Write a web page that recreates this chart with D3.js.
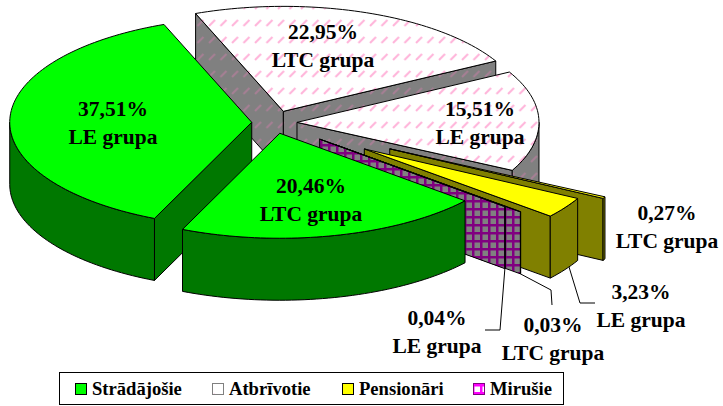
<!DOCTYPE html>
<meta charset="utf-8">
<style>
  body { margin: 0; background: #fff; }
  text { font-family: "Liberation Serif", serif; font-weight: bold; fill: #000; }
</style>
<body>
<script src="https://d3js.org/d3.v7.min.js"></script>
<script>
// slices in clockwise order, starting with the big green one
var shares = [37.51, 22.95, 15.51, 0.27, 3.23, 0.03, 0.04, 20.46];
var shareLabels = ["37,51%", "22,95%", "15,51%", "0,27%", "3,23%", "0,03%", "0,04%", "20,46%"];
var groupLabels = ["LE grupa", "LTC grupa", "LE grupa", "LTC grupa", "LE grupa", "LTC grupa", "LE grupa", "LTC grupa"];
var sliceStatus = [0, 1, 1, 2, 2, 3, 3, 0];
var legendNames = ["Strādājošie", "Atbrīvotie", "Pensionāri", "Mirušie"];

var width = 723, height = 406;

// ground plane of the pie -> screen
var x = d3.scaleLinear().domain([-1, 1]).range([274 - 242, 274 + 242]);
var y = d3.scaleLinear().domain([-1, 1]).range([122.5 - 105, 122.5 + 105]);
var depth = 62;
var rad = Math.PI / 180;

var explode = [0.092, 0.113, 0.095, 0.54, 0.45, 0.327, 0.246, 0.105];
var drawOrder = [1, 2, 3, 4, 5, 6, 0, 7];

var looks = [
  { top: "#00ff00", side: "#007800" },
  { top: "url(#pinkTop)", side: "url(#pinkSide)" },
  { top: "#ffff00", side: "#808000" },
  { top: "url(#plaidTop)", side: "url(#plaidSide)" }
];

var pie = d3.pie().sort(null).value(d => d)
  .startAngle(113.7 * rad).endAngle(113.7 * rad + 2 * Math.PI);
var slices = pie(shares);

var svg = d3.select("body").append("svg")
  .attr("width", width)
  .attr("height", height);

var defs = svg.append("defs");

function dashPattern(id, bg, dash) {
  var p = defs.append("pattern").attr("id", id)
    .attr("patternUnits", "userSpaceOnUse")
    .attr("width", 11.5).attr("height", 17);
  p.append("rect").attr("width", 11.5).attr("height", 17).attr("fill", bg);
  p.append("line").attr("x1", 2).attr("y1", 9).attr("x2", 8).attr("y2", 3)
    .attr("stroke", dash).attr("stroke-width", 2);
}
function plaidPattern(id, bg, lineCol) {
  var p = defs.append("pattern").attr("id", id)
    .attr("patternUnits", "userSpaceOnUse")
    .attr("width", 8).attr("height", 8);
  p.append("rect").attr("width", 8).attr("height", 8).attr("fill", bg);
  p.append("rect").attr("x", 0).attr("width", 2.5).attr("height", 8).attr("fill", lineCol);
  p.append("rect").attr("y", 0).attr("width", 8).attr("height", 2.5).attr("fill", lineCol);
}
dashPattern("pinkTop", "#fff", "#ffb4da");
dashPattern("pinkSide", "#808080", "#a67f94");
plaidPattern("plaidTop", "#fff", "#ff00ff");
plaidPattern("plaidSide", "#808080", "#800080");

var line = d3.line();

function pt(s, e, r, a, drop) {
  var ox = e * Math.cos(s), oy = e * Math.sin(s);
  return [x(ox + r * Math.cos(a)), y(oy + r * Math.sin(a)) + (drop || 0)];
}
function arcAngles(a0, a1) {
  var n = Math.max(2, Math.ceil((a1 - a0) / (1.5 * rad)));
  return d3.range(n + 1).map(i => a0 + (a1 - a0) * i / n);
}

var pieG = svg.append("g").attr("stroke", "#000").attr("stroke-width", 1).attr("stroke-linejoin", "round");

drawOrder.forEach(function(i) {
  var d = slices[i], e = explode[i], look = looks[sliceStatus[i]];
  var mid = (d.startAngle + d.endAngle) / 2;
  var g = pieG.append("g");

  function wall(a) {
    g.append("path")
      .attr("d", line([pt(mid, e, 0, a), pt(mid, e, 1, a), pt(mid, e, 1, a, depth), pt(mid, e, 0, a, depth)]) + "Z")
      .attr("fill", look.side);
  }
  if (Math.sin(d.startAngle - Math.PI / 2) > 0) wall(d.startAngle);
  if (Math.sin(d.endAngle + Math.PI / 2) > 0) wall(d.endAngle);

  // rim, only the part that faces the viewer
  [[0, Math.PI], [2 * Math.PI, 3 * Math.PI]].forEach(function(w) {
    var a0 = Math.max(d.startAngle, w[0]), a1 = Math.min(d.endAngle, w[1]);
    if (a1 <= a0) return;
    var as = arcAngles(a0, a1);
    var rim = as.map(a => pt(mid, e, 1, a)).concat(as.slice().reverse().map(a => pt(mid, e, 1, a, depth)));
    g.append("path").attr("d", line(rim) + "Z").attr("fill", look.side);
  });

  var topPts = [pt(mid, e, 0, d.startAngle)].concat(arcAngles(d.startAngle, d.endAngle).map(a => pt(mid, e, 1, a)));
  g.append("path").attr("d", line(topPts) + "Z").attr("fill", look.top);
});

// leader lines, from the slice to its label
function bottomOf(i, a) {
  return pt((slices[i].startAngle + slices[i].endAngle) / 2, explode[i], 1, a, depth);
}
var leaders = [
  [bottomOf(4, slices[4].startAngle + 0.35 * (slices[4].endAngle - slices[4].startAngle)), [580, 303], [595, 303]],
  [bottomOf(5, slices[5].endAngle), [551, 290], [552, 305]],
  [bottomOf(6, slices[6].endAngle), [500, 330], [485, 330]]
];
svg.append("g").selectAll("path").data(leaders).enter().append("path")
  .attr("d", d => line(d))
  .attr("fill", "none").attr("stroke", "#000").attr("stroke-width", 1);

// labels: centre x, baseline of first row
var labelPos = [[113, 116], [323, 39], [480, 116], [667, 220], [641, 299], [553, 332], [437, 325], [311, 193]];
var labelG = svg.append("g").attr("text-anchor", "middle").style("font-size", "21.5px");
shares.forEach(function(v, i) {
  labelG.append("text").attr("x", labelPos[i][0]).attr("y", labelPos[i][1]).text(shareLabels[i]);
  labelG.append("text").attr("x", labelPos[i][0]).attr("y", labelPos[i][1] + 28).text(groupLabels[i]);
});

// legend
var legend = svg.append("g");
legend.append("rect")
  .attr("x", 59.5).attr("y", 372.5).attr("width", 504).attr("height", 32)
  .attr("fill", "#fff").attr("stroke", "#000").attr("stroke-width", 1);
var legendX = [75.5, 212.5, 342.5, 473.5];
var swatchFill = ["#00ff00", "url(#pinkTop)", "#ffff00", "url(#plaidTop)"];
var swatchLine = ["#000", "#808080", "#000", "#800080"];
legendNames.forEach(function(name, i) {
  legend.append("rect")
    .attr("x", legendX[i]).attr("y", 383.5).attr("width", 11).attr("height", 11)
    .attr("fill", swatchFill[i]).attr("stroke", swatchLine[i]).attr("stroke-width", 1);
  legend.append("text")
    .attr("x", legendX[i] + 16.5).attr("y", 395)
    .style("font-size", "18.6px").text(name);
});
</script>
</body>
</html>
